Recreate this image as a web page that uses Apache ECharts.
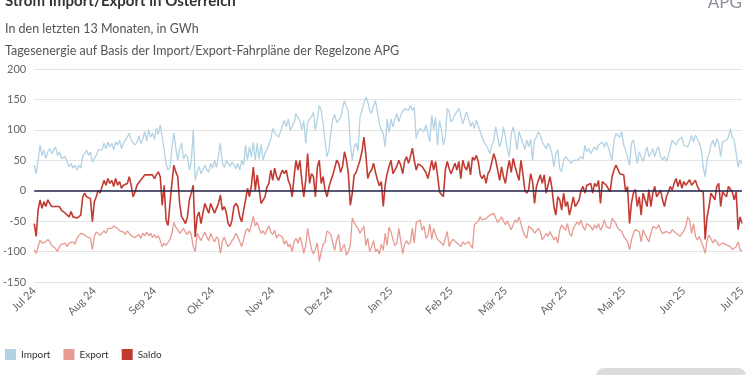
<!DOCTYPE html>
<html>
<head>
<meta charset="utf-8">
<script src="https://cdn.jsdelivr.net/npm/echarts@6/dist/echarts.min.js"></script>
<style>
  html, body { margin: 0; padding: 0; background: #fff; }
  #chart { width: 750px; height: 375px; }
</style>
</head>
<body>
<div id="chart"></div>
<script>
// Tageswerte ab 1. Juli 2024, in GWh
const startDate = Date.UTC(2024, 6, 1);
const monthNames = ['Jan', 'Feb', 'Mär', 'Apr', 'Mai', 'Jun', 'Jul', 'Aug', 'Sep', 'Okt', 'Nov', 'Dez'];
const yTicks = [-150, -100, -50, 0, 50, 100, 150, 200];

const importVals = [
  42,28,50,75,58,67,53,64,69,61, 67,72,58,64,53,50,56,47,39,45,
  37,42,34,42,37,56,61,67,58,64, 47,53,58,67,69,67,78,69,80,72,
  78,67,80,75,83,69,78,83,88,95, 83,86,75,80,90,78,85,97,82,100,
  88,95,84,103,92,108,88,86,45,34, 38,70,95,70,50,68,78,52,60,55,
  34,48,100,17,30,40,28,34,42,35, 30,45,37,50,38,35,78,45,38,50,
  45,40,47,43,36,45,34,50,42,75, 50,72,55,80,50,78,52,76,50,62,
  67,70,85,102,95,92,88,97,100,116, 105,118,100,105,112,127,120,115,100,115,
  78,112,118,122,129,99,118,140,132,110, 80,56,68,95,118,125,112,115,120,135,
  148,137,130,78,50,72,78,65,121,132, 143,154,146,132,127,140,148,130,110,100,
  94,72,118,96,118,105,118,127,113,124, 130,135,137,132,140,132,137,86,97,102,
  105,97,108,94,80,124,100,120,75,115, 100,75,88,135,130,113,118,125,128,135,
  124,110,120,130,118,105,113,102,116,118, 97,88,80,75,69,61,75,83,105,88,
  72,83,105,88,67,56,94,105,88,67, 97,99,78,67,83,72,85,50,83,88,
  97,91,80,83,69,78,72,61,39,61, 67,37,31,50,56,52,50,45,50,52,
  50,52,56,52,75,64,69,61,67,72, 67,75,78,80,72,80,72,61,50,83,
  94,97,88,97,75,67,69,42,78,83, 64,45,64,56,48,61,72,56,61,69,
  56,67,72,56,50,56,48,58,56,83, 80,75,83,80,88,75,78,72,80,91,
  80,91,94,78,67,39,23,50,61,75, 83,72,86,78,56,80,83,83,88,102,
  88,83,86,39,50,45
];

const exportVals = [
  -97,-103,-92,-81,-86,-88,-84,-80,-84,-90, -92,-95,-100,-92,-88,-90,-86,-92,-86,-88,
  -84,-88,-78,-76,-70,-68,-72,-76,-75,-78, -97,-75,-68,-70,-73,-72,-66,-70,-62,-64,
  -62,-58,-56,-62,-66,-64,-68,-72,-66,-70, -74,-75,-77,-76,-72,-78,-70,-74,-68,-74,
  -70,-77,-72,-78,-74,-82,-92,-86,-90,-92, -80,-70,-52,-60,-64,-70,-66,-62,-68,-72,
  -66,-72,-92,-100,-70,-76,-82,-74,-68,-76, -82,-70,-78,-84,-76,-80,-103,-84,-76,-86,
  -92,-88,-82,-78,-70,-76,-84,-92,-80,-66, -62,-68,-66,-42,-58,-52,-62,-70,-66,-72,
  -64,-58,-68,-72,-65,-78,-72,-70,-76,-88, -82,-92,-88,-100,-84,-78,-86,-76,-86,-103,
  -90,-62,-80,-96,-104,-96,-86,-116,-100,-88, -84,-66,-64,-72,-86,-98,-80,-72,-100,-103,
  -88,-106,-100,-90,-45,-52,-58,-62,-70,-70, -58,-90,-78,-100,-92,-82,-100,-96,-104,-88,
  -98,-70,-90,-60,-68,-80,-90,-86,-62,-82, -104,-88,-82,-88,-84,-62,-86,-52,-55,-48,
  -65,-58,-78,-74,-55,-80,-62,-72,-80,-78, -86,-90,-78,-67,-92,-84,-80,-81,-86,-89,
  -92,-84,-88,-86,-84,-84,-95,-56,-58,-50, -43,-48,-48,-46,-44,-40,-42,-37,-45,-52,
  -54,-43,-50,-56,-50,-51,-64,-56,-48,-52, -43,-54,-66,-73,-78,-58,-56,-64,-70,-73,
  -62,-67,-81,-76,-70,-75,-67,-70,-81,-76, -86,-65,-56,-59,-65,-54,-70,-75,-62,-65,
  -51,-56,-48,-59,-65,-54,-51,-59,-65,-56, -62,-54,-65,-59,-48,-59,-56,-62,-45,-48,
  -54,-62,-59,-67,-75,-78,-84,-97,-81,-70, -64,-67,-67,-84,-64,-72,-78,-84,-70,-59,
  -62,-62,-56,-65,-70,-67,-67,-70,-70,-64, -66,-70,-72,-75,-72,-66,-59,-43,-48,-70,
  -54,-75,-81,-75,-84,-92,-103,-81,-73,-75, -86,-80,-84,-90,-92,-86,-89,-89,-92,-92,
  -97,-100,-92,-84,-97,-100
];

const saldoVals = [
  -54,-75,-32,-15,-29,-18,-26,-15,-21,-26, -23,-26,-29,-26,-32,-29,-37,-34,-43,-34,
  -43,-40,-45,-43,-40,-10,-4,-10,-7,-13, -51,-18,-10,1,-4,7,17,9,20,12,
  17,7,20,9,15,4,9,7,12,23, 9,-10,-2,9,12,18,20,26,29,26,
  29,26,20,26,31,23,-24,9,-48,-57, -21,12,42,31,23,-21,-43,-48,-54,-43,
  -15,-4,9,-76,-43,-35,-54,-37,-21,-29, -37,-21,-29,-37,-29,-21,-7,-32,-26,-35,
  -54,-59,-48,-26,-21,-26,-43,-51,-32,-15, 4,-10,9,39,1,26,28,-21,-18,-10,
  6,12,34,17,37,23,17,26,34,28, 34,17,9,-10,23,50,34,50,17,-10,
  17,61,12,28,23,-10,39,50,12,23, 1,-10,6,17,26,28,50,45,30,40,
  64,50,28,-24,-5,26,30,40,50,64, 88,60,20,30,34,45,30,18,8,15,
  -26,10,28,40,50,28,26,40,50,42, 28,48,56,45,56,70,50,34,44,42,
  40,42,30,20,34,50,34,48,25,-2, -4,-10,34,48,36,28,37,45,34,48,
  20,50,39,34,48,26,55,50,58,48, 26,20,26,12,28,34,31,61,50,34,
  17,39,23,12,34,50,30,53,39,28, 17,50,28,1,-4,2,28,15,-21,7,
  17,26,12,26,-4,-2,23,4,-26,-40, -10,-15,-32,-4,-26,-18,-40,-26,-10,-26,
  -21,-15,1,7,-4,9,7,12,-4,12, 7,17,-21,15,17,9,7,-2,23,34,
  42,39,28,28,26,-2,7,-54,-20,-4, 2,-26,-10,-40,-4,-15,-26,2,-26,-4,
  7,-10,-7,1,-15,-26,-10,-2,7,1, 12,20,7,18,4,15,9,7,18,9,
  12,17,7,1,4,-2,-80,-43,-26,-4, -2,-15,7,12,-26,-2,-2,-10,7,9,
  -2,-15,-2,-64,-43,-54
];

// Datumskategorien
const days = importVals.map((v, i) => {
  const d = new Date(startDate + i * 86400000);
  return d.toISOString().slice(0, 10);
});

const chart = echarts.init(document.getElementById('chart'));
const font = 'Lato, "Noto Sans", sans-serif';

const option = {
  animation: false,
  textStyle: { fontFamily: font },
  title: [
    {
      text: 'Strom Import/Export in Österreich',
      left: 0, top: -11,
      textStyle: { fontSize: 15, fontWeight: 'bold', color: '#333' }
    },
    {
      text: 'In den letzten 13 Monaten, in GWh\nTagesenergie auf Basis der Import/Export-Fahrpläne der Regelzone APG',
      left: 0, top: 13,
      textStyle: { fontSize: 12.5, fontWeight: 'normal', color: '#555', lineHeight: 22 }
    }
  ],
  graphic: [
    { type: 'text', right: 8, top: -6, style: { text: 'APG', fontSize: 17, fill: '#8a8f99', fontFamily: font } },
    { type: 'rect', shape: { x: 596, y: 368, width: 150, height: 24, r: 8 }, style: { fill: '#dcdcdc' } }
  ],
  legend: {
    left: 0, top: 344,
    itemWidth: 11, itemHeight: 11, itemGap: 13,
    icon: 'rect',
    textStyle: { fontSize: 10, color: '#333' },
    data: ['Import', 'Export', 'Saldo']
  },
  grid: { left: 31, right: 8, top: 69, bottom: 93, containLabel: false },
  xAxis: {
    type: 'category',
    data: days,
    boundaryGap: false,
    axisLine: { show: false },
    axisTick: { show: false },
    splitLine: { show: false },
    axisLabel: {
      rotate: 45,
      margin: 7,
      fontSize: 11,
      color: '#666',
      interval: (idx, val) => val.slice(8) === '01',
      formatter: val => monthNames[+val.slice(5, 7) - 1] + ' ' + val.slice(2, 4)
    }
  },
  yAxis: {
    type: 'value',
    min: yTicks[0],
    max: yTicks[yTicks.length - 1],
    interval: 50,
    axisLine: { show: false },
    axisTick: { show: false },
    axisLabel: { fontSize: 11, color: '#666', margin: 8 },
    splitLine: { lineStyle: { color: '#e3e3e3', width: 1 } }
  },
  series: [
    {
      name: 'Import', type: 'line', data: importVals, symbol: 'none',
      itemStyle: { color: '#b3d2e3' },
      lineStyle: { color: '#b3d2e3', width: 1.3 }
    },
    {
      name: 'Export', type: 'line', data: exportVals, symbol: 'none',
      itemStyle: { color: '#e79a92' },
      lineStyle: { color: '#e79a92', width: 1.3 }
    },
    {
      name: 'Saldo', type: 'line', data: saldoVals, symbol: 'none',
      itemStyle: { color: '#c23b33' },
      lineStyle: { color: '#c23b33', width: 1.6 },
      markLine: {
        silent: true, symbol: 'none', label: { show: false },
        lineStyle: { color: '#23264a', width: 1.5, type: 'solid' },
        data: [{ yAxis: 0 }]
      }
    }
  ]
};
chart.setOption(option);
</script>
</body>
</html>
